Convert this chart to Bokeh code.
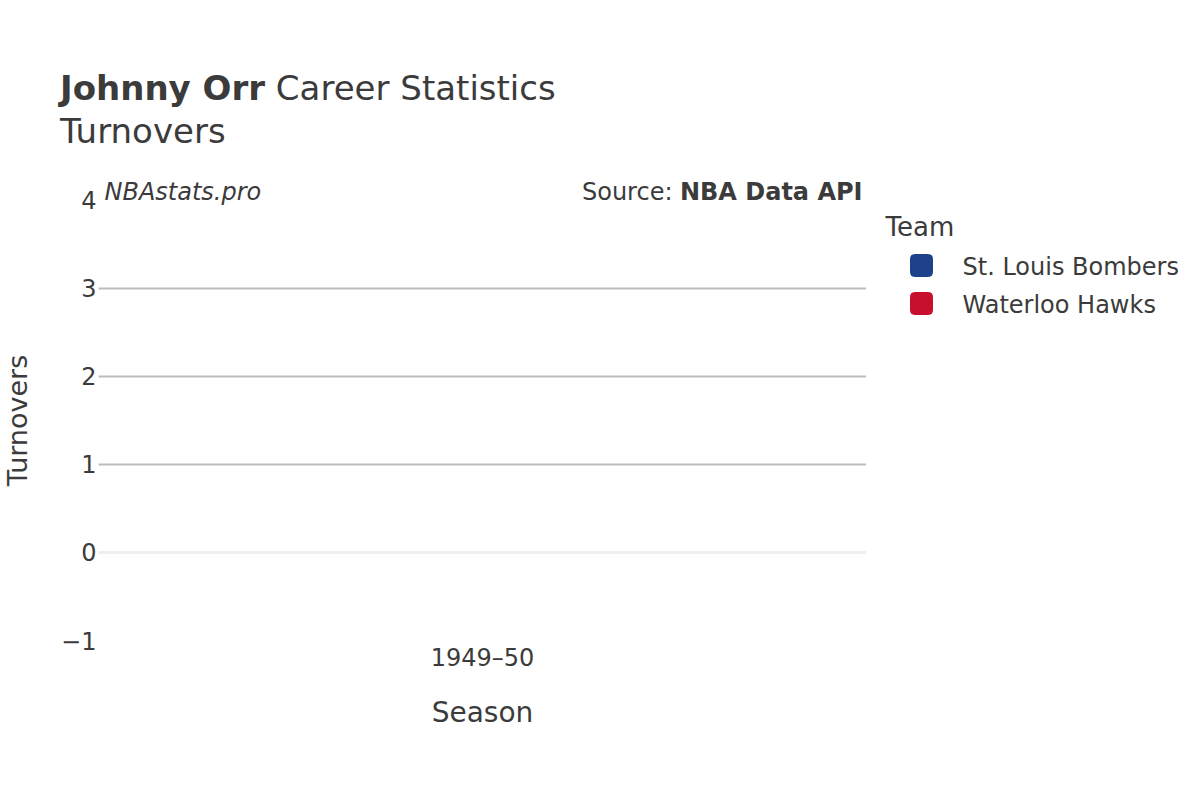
import math
from bokeh.plotting import figure
from bokeh.models import (ColumnDataSource, FixedTicker, Range1d, Label, Span,
                          FactorRange, Div)
from bokeh.layouts import row, column
from bokeh.transform import dodge
from bokeh.core.properties import value
from bokeh.embed import file_html
from bokeh.resources import INLINE

# ---- data ----
player = "Johnny Orr"
title_rest = "Career Statistics"
stat_name = "Turnovers"
seasons = ["1949–50"]
teams = ["St. Louis Bombers", "Waterloo Hawks"]
team_colors = ["#1D428A", "#C8102E"]
turnovers_bombers = [float("nan")]   # not recorded in the data
turnovers_hawks = [float("nan")]     # not recorded in the data
y_ticks = [-1, 0, 1, 2, 3, 4]

FONT = "DejaVu Sans"
TXT = "#3b3b3b"

# ---- header ----
header_html = (
    f'<div style="position:relative;width:1184px;height:170px;'
    f'font-family:\'DejaVu Sans\';color:{TXT};">'
    f'<div style="position:absolute;left:60px;top:71px;font-size:34px;'
    f'line-height:34px;white-space:nowrap;"><b>{player}</b> {title_rest}</div>'
    f'<div style="position:absolute;left:60px;top:114px;font-size:34px;'
    f'line-height:34px;white-space:nowrap;">{stat_name}</div></div>')
header = Div(text=header_html, width=1184, height=170, margin=0)

# ---- y-axis title strip ----
ylab = figure(width=40, height=614, x_range=Range1d(0, 40),
              y_range=Range1d(-640, -176), output_backend="svg",
              toolbar_location=None, x_axis_type=None, y_axis_type=None,
              min_border_left=0, min_border_right=0, min_border_top=6,
              min_border_bottom=144)
ylab.title.visible = False
ylab.outline_line_color = None
ylab.grid.visible = False
ylab.border_fill_color = "white"
ylab.text(x=[17], y=[-420], text=[stat_name], angle=math.pi / 2,
          text_font=value(FONT), text_font_size="27px", text_color=TXT,
          text_align="center", text_baseline="middle")

# ---- main chart ----
p = figure(width=826, height=614, x_range=FactorRange(*seasons),
           y_range=Range1d(-1, 4.27), output_backend="svg",
           toolbar_location=None, min_border_left=58, min_border_right=0,
           min_border_top=6, min_border_bottom=144)
p.title.visible = False
p.outline_line_color = None
p.background_fill_color = "white"
p.border_fill_color = "white"

src = ColumnDataSource(dict(season=seasons, bombers=turnovers_bombers,
                            hawks=turnovers_hawks))
p.vbar(x=dodge("season", -0.2, range=p.x_range), top="bombers", width=0.38,
       source=src, color=team_colors[0])
p.vbar(x=dodge("season", 0.2, range=p.x_range), top="hawks", width=0.38,
       source=src, color=team_colors[1])

p.yaxis.ticker = FixedTicker(ticks=y_ticks)
p.yaxis.major_label_overrides = {-1: "−1"}
for ax in (p.xaxis[0], p.yaxis[0]):
    ax.axis_line_color = None
    ax.major_tick_line_color = None
    ax.minor_tick_line_color = None
    ax.major_tick_out = 0
    ax.major_tick_in = 0
    ax.major_label_text_font = FONT
    ax.major_label_text_font_size = "24px"
    ax.major_label_text_color = TXT
    ax.axis_label_text_font = FONT
    ax.axis_label_text_font_style = "normal"
    ax.axis_label_text_color = TXT
p.yaxis.major_label_standoff = 2
p.xaxis.major_label_standoff = 3
p.xaxis.axis_label = "Season"
p.xaxis.axis_label_text_font_size = "28px"
p.xaxis.axis_label_standoff = 21

p.xgrid.visible = False
p.ygrid.ticker = FixedTicker(ticks=[1, 2, 3])
p.ygrid.grid_line_color = "#bdbdbd"
p.ygrid.grid_line_width = 2
p.add_layout(Span(location=0, dimension="width", line_color="#eeeeee",
                  line_width=3))

def lab(text, x, y, style="normal", align="left"):
    p.add_layout(Label(x=x, y=y, x_units="screen", y_units="screen", text=text,
                       text_font=FONT, text_font_size="24px",
                       text_font_style=style, text_color=TXT,
                       text_align=align, text_baseline="alphabetic"))

lab("NBAstats.pro", 6, 449, "italic")
lab("Source:", 574, 449, align="right")
lab("NBA Data API", 764, 449, "bold", align="right")

# ---- legend panel (data units = page pixels) ----
leg = figure(width=318, height=614, x_range=Range1d(866, 1184),
             y_range=Range1d(640, 176), output_backend="svg",
             toolbar_location=None, x_axis_type=None, y_axis_type=None,
             min_border_left=0, min_border_right=0, min_border_top=6,
             min_border_bottom=144)
leg.title.visible = False
leg.outline_line_color = None
leg.grid.visible = False
leg.border_fill_color = "white"

n = len(teams)
yc = [265 + 38 * i for i in range(n)]
lsrc = ColumnDataSource(dict(
    left=[910] * n, right=[932] * n,
    top=[c - 11 for c in yc], bottom=[c + 11 for c in yc],
    color=team_colors, name=teams, tx=[962] * n, ty=[c + 1 for c in yc]))
leg.quad(left="left", right="right", top="top", bottom="bottom",
         fill_color="color", line_color="color", border_radius=4, source=lsrc)
leg.text(x="tx", y="ty", text="name", source=lsrc,
         text_font=value(FONT), text_font_size="24px", text_color=TXT,
         text_baseline="alphabetic", text_align="left")
leg.text(x=[885], y=[226], text=["Team"], text_font=value(FONT),
         text_font_size="26px", text_color=TXT, text_baseline="alphabetic")

layout = column(header, row(ylab, p, leg))
open("out.html", "w").write(file_html(layout, INLINE))
